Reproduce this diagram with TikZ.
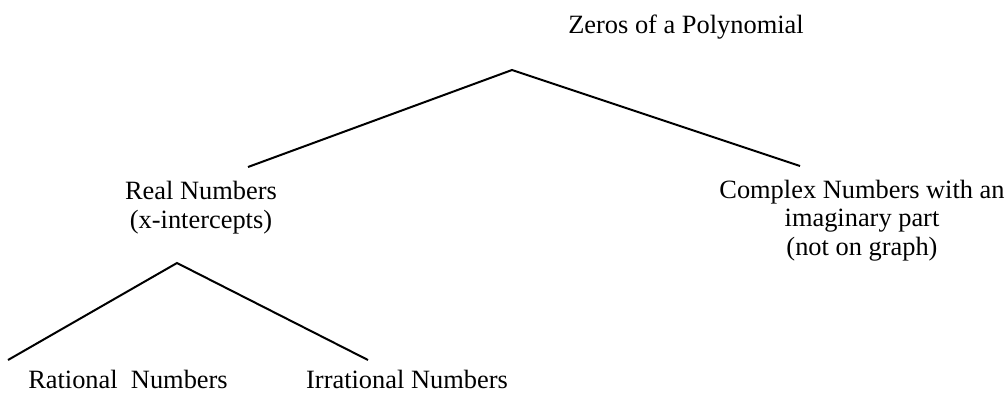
\documentclass[tikz,border=0pt]{standalone}
\usepackage{fontspec}
\setmainfont{Liberation Serif}
\begin{document}
\begin{tikzpicture}[x=1pt,y=-1pt,
  lbl/.style={inner sep=0pt,outer sep=0pt,align=center,anchor=base,
    font=\fontsize{26.4}{28.5}\selectfont},
  branch/.style={line width=2pt,black}]
\useasboundingbox (0,0) rectangle (1008,394);
% labels (base anchor = baseline of the last line)
\node[lbl] (zeros) at (686,33) {Zeros of a Polynomial};
\node[lbl] (real) at (201,228) {Real Numbers\\(x-intercepts)};
\node[lbl] (complex) at (862,255) {Complex Numbers with an\\imaginary part\\(not on graph)};
\node[lbl] (rational) at (128,388) {Rational\ \ Numbers};
\node[lbl] (irrational) at (407,388) {Irrational Numbers};
% branch points
\coordinate (apex1) at (512,70);
\coordinate (realtop) at (248,167);
\coordinate (complextop) at (800,166);
\coordinate (apex2) at (177,263);
\coordinate (rationaltop) at (8,360);
\coordinate (irrationaltop) at (368,360);
\draw[branch] (realtop) -- (apex1) -- (complextop);
\draw[branch] (rationaltop) -- (apex2) -- (irrationaltop);
\end{tikzpicture}
\end{document}
